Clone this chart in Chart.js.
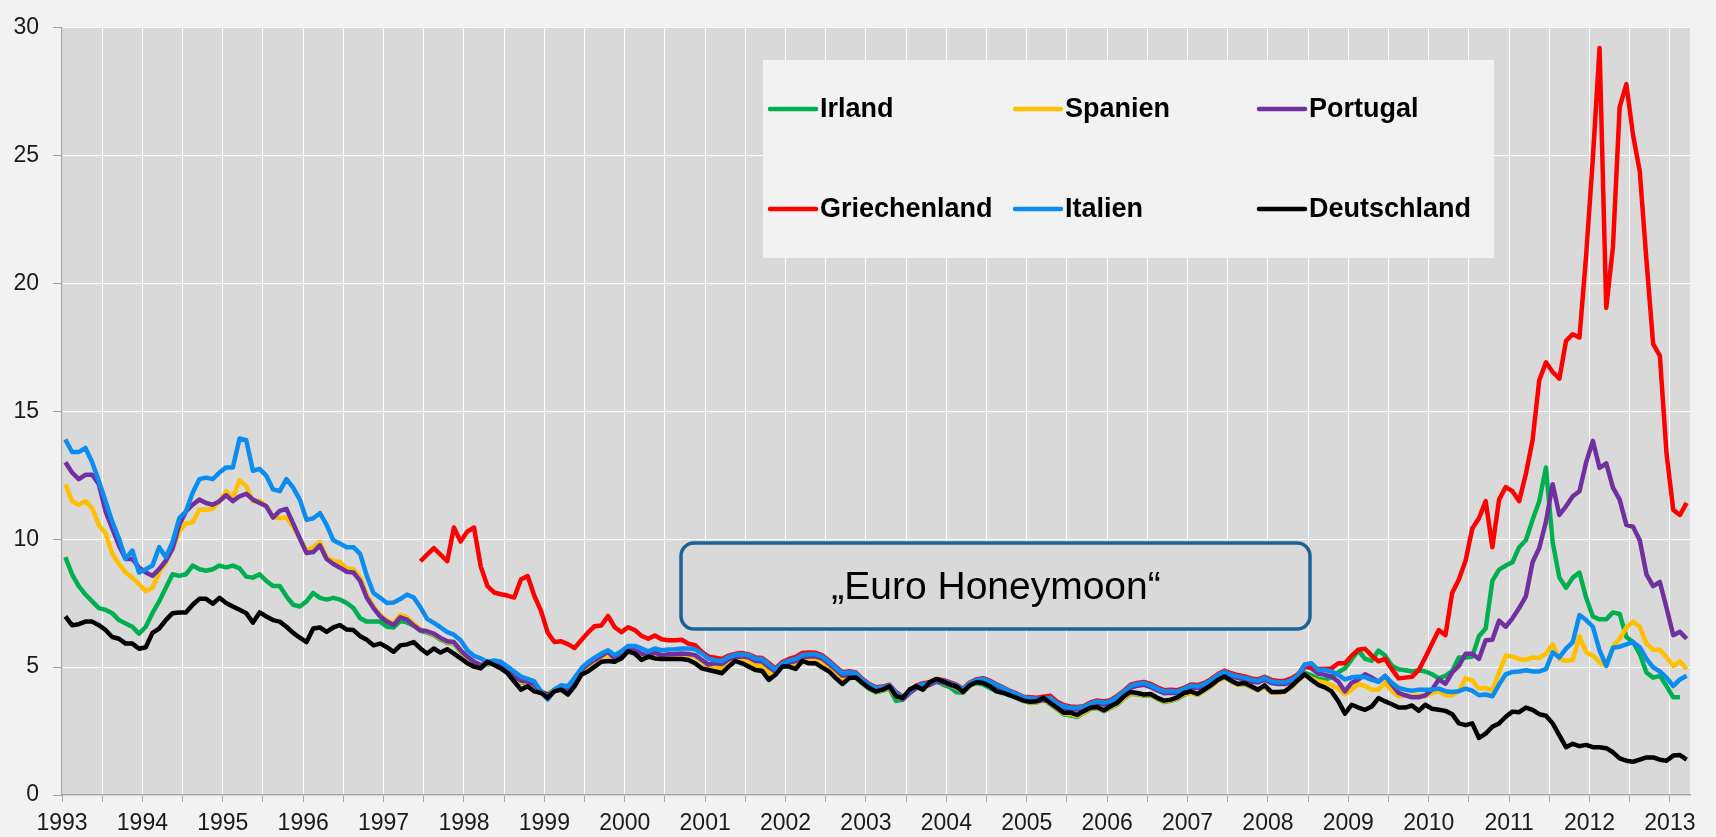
<!DOCTYPE html>
<html lang="de">
<head>
<meta charset="utf-8">
<title>Renditen 10-jähriger Staatsanleihen 1993–2013</title>
<script src="https://cdn.jsdelivr.net/npm/chart.js@4.4.1/dist/chart.umd.min.js"></script>
<style>
  html, body { margin: 0; padding: 0; background: #f2f2f2; }
  #wrap { width: 1716px; height: 837px; }
</style>
</head>
<body>
<div id="wrap"><canvas id="chart" width="1716" height="837"></canvas></div>
<script>
// Monatswerte Jan 1993 .. Mär 2013 (243 Monate), Rendite in %
const years = ['1993', '1994', '1995', '1996', '1997', '1998', '1999', '2000', '2001', '2002', '2003',
	'2004', '2005', '2006', '2007', '2008', '2009', '2010', '2011', '2012', '2013'];
const firstYear = 1993;
const monthCount = 243;

const irland = [
	9.30, 8.63, 8.17, 7.84, 7.57, 7.31, 7.24, 7.11, 6.84, 6.71, 6.58, 6.31,
	6.58, 7.11, 7.57, 8.10, 8.63, 8.57, 8.63, 8.97, 8.83, 8.77, 8.83, 8.97,
	8.90, 8.97, 8.86, 8.54, 8.50, 8.63, 8.37, 8.17, 8.17, 7.77, 7.44, 7.37,
	7.57, 7.90, 7.71, 7.64, 7.71, 7.64, 7.51, 7.31, 6.91, 6.78, 6.78, 6.78,
	6.58, 6.55, 6.80, 6.75, 6.62, 6.42, 6.35, 6.25, 6.08, 5.95, 5.92, 5.60,
	5.36, 5.16, 5.03, 5.10, 5.16, 5.03, 4.83, 4.55, 4.40, 4.37, 4.24, 4.00,
	3.95, 4.12, 4.25, 4.12, 4.55, 4.88, 5.10, 5.26, 5.42, 5.55, 5.30, 5.50,
	5.68, 5.62, 5.48, 5.40, 5.52, 5.42, 5.46, 5.47, 5.48, 5.47, 5.42, 5.24,
	4.98, 4.95, 4.90, 5.12, 5.28, 5.25, 5.15, 5.00, 4.98, 4.62, 4.75, 5.08,
	5.12, 5.10, 5.34, 5.30, 5.28, 5.12, 4.95, 4.68, 4.45, 4.60, 4.58, 4.35,
	4.15, 4.02, 4.08, 4.16, 3.68, 3.72, 4.02, 4.20, 4.15, 4.36, 4.46, 4.32,
	4.22, 4.02, 4.00, 4.28, 4.38, 4.32, 4.18, 4.06, 4.00, 3.90, 3.80, 3.68,
	3.60, 3.62, 3.72, 3.55, 3.36, 3.15, 3.12, 3.05, 3.20, 3.36, 3.40, 3.28,
	3.40, 3.54, 3.78, 3.96, 3.94, 3.88, 3.90, 3.76, 3.64, 3.68, 3.76, 3.92,
	4.00, 3.92, 4.08, 4.26, 4.48, 4.60, 4.46, 4.32, 4.34, 4.22, 4.10, 4.24,
	4.02, 4.02, 4.05, 4.24, 4.52, 4.78, 4.68, 4.55, 4.50, 4.62, 4.80, 4.95,
	5.30, 5.65, 5.32, 5.25, 5.65, 5.45, 5.05, 4.92, 4.88, 4.83, 4.88, 4.83,
	4.72, 4.56, 4.66, 4.85, 5.38, 5.38, 5.41, 6.21, 6.51, 8.37, 8.81, 8.97,
	9.10, 9.69, 9.96, 10.76, 11.49, 12.81, 9.89, 8.50, 8.10, 8.50, 8.70, 7.71,
	6.98, 6.87, 6.87, 7.14, 7.08, 6.18, 5.98, 5.52, 4.79, 4.59, 4.66, 4.26,
	3.82, 3.82, null
];

const spanien = [
	12.15, 11.49, 11.35, 11.49, 11.22, 10.56, 10.23, 9.43, 9.03, 8.70, 8.50, 8.24,
	7.97, 8.10, 8.70, 9.10, 9.63, 10.29, 10.62, 10.66, 11.15, 11.15, 11.19, 11.49,
	11.88, 11.62, 12.31, 12.08, 11.49, 11.51, 11.29, 10.89, 10.82, 10.85, 10.49, 10.03,
	9.56, 9.69, 9.89, 9.30, 9.16, 9.10, 8.86, 8.83, 8.50, 7.84, 7.37, 7.04,
	6.84, 6.70, 7.05, 6.95, 6.70, 6.48, 6.38, 6.28, 6.12, 5.98, 5.95, 5.62,
	5.38, 5.18, 5.05, 5.12, 5.18, 5.05, 4.85, 4.58, 4.42, 4.40, 4.27, 4.02,
	3.95, 4.08, 4.22, 4.10, 4.52, 4.85, 5.05, 5.22, 5.38, 5.50, 5.28, 5.46,
	5.66, 5.60, 5.46, 5.38, 5.50, 5.40, 5.44, 5.45, 5.47, 5.45, 5.41, 5.22,
	5.00, 5.00, 4.95, 5.18, 5.32, 5.30, 5.20, 5.06, 5.04, 4.76, 4.76, 5.05,
	5.10, 5.08, 5.32, 5.28, 5.28, 5.15, 4.97, 4.73, 4.50, 4.62, 4.62, 4.40,
	4.18, 4.05, 4.10, 4.20, 3.86, 3.76, 4.03, 4.18, 4.16, 4.33, 4.46, 4.40,
	4.30, 4.20, 4.02, 4.28, 4.40, 4.40, 4.28, 4.12, 4.03, 3.92, 3.82, 3.70,
	3.62, 3.63, 3.72, 3.58, 3.38, 3.18, 3.16, 3.08, 3.22, 3.38, 3.42, 3.30,
	3.42, 3.56, 3.80, 3.98, 3.96, 3.90, 3.92, 3.78, 3.66, 3.70, 3.78, 3.94,
	4.00, 3.92, 4.08, 4.24, 4.46, 4.60, 4.45, 4.32, 4.35, 4.22, 4.10, 4.24,
	4.00, 4.00, 4.03, 4.22, 4.48, 4.70, 4.55, 4.45, 4.40, 4.30, 4.15, 3.93,
	4.12, 4.35, 4.26, 4.12, 4.12, 4.39, 4.06, 3.86, 3.90, 3.86, 3.90, 3.86,
	3.99, 4.06, 3.90, 3.90, 4.06, 4.56, 4.48, 4.16, 4.19, 4.08, 4.79, 5.45,
	5.41, 5.32, 5.28, 5.38, 5.36, 5.52, 5.89, 5.32, 5.25, 5.28, 6.21, 5.58,
	5.45, 5.19, 5.05, 5.81, 6.11, 6.55, 6.78, 6.58, 5.92, 5.68, 5.68, 5.38,
	5.05, 5.23, 4.92
];

const portugal = [
	13.01, 12.61, 12.35, 12.52, 12.52, 12.15, 11.09, 10.42, 9.76, 9.23, 9.23, 8.89,
	8.70, 8.57, 8.83, 9.16, 9.63, 10.56, 11.09, 11.35, 11.55, 11.42, 11.35, 11.49,
	11.72, 11.49, 11.68, 11.78, 11.55, 11.42, 11.29, 10.85, 11.11, 11.19, 10.62, 10.03,
	9.46, 9.50, 9.76, 9.23, 9.03, 8.89, 8.73, 8.70, 8.37, 7.71, 7.31, 6.98,
	6.78, 6.65, 6.95, 6.86, 6.63, 6.44, 6.40, 6.31, 6.14, 6.01, 5.98, 5.66,
	5.41, 5.21, 5.08, 5.15, 5.21, 5.08, 4.89, 4.63, 4.47, 4.44, 4.31, 4.05,
	3.93, 4.05, 4.21, 4.12, 4.57, 4.89, 5.11, 5.28, 5.44, 5.60, 5.34, 5.53,
	5.73, 5.66, 5.53, 5.44, 5.57, 5.47, 5.50, 5.51, 5.53, 5.51, 5.47, 5.28,
	5.10, 5.15, 5.12, 5.30, 5.40, 5.42, 5.38, 5.24, 5.22, 5.00, 4.82, 5.08,
	5.18, 5.24, 5.40, 5.42, 5.42, 5.33, 5.12, 4.90, 4.66, 4.70, 4.68, 4.42,
	4.22, 4.10, 4.14, 4.22, 3.92, 3.74, 3.98, 4.18, 4.26, 4.30, 4.43, 4.40,
	4.30, 4.22, 4.05, 4.31, 4.43, 4.47, 4.37, 4.24, 4.10, 3.96, 3.86, 3.74,
	3.70, 3.68, 3.70, 3.72, 3.54, 3.40, 3.35, 3.34, 3.37, 3.50, 3.58, 3.54,
	3.60, 3.76, 3.96, 4.20, 4.27, 4.31, 4.22, 4.09, 3.98, 4.00, 3.98, 4.08,
	4.21, 4.18, 4.27, 4.42, 4.62, 4.76, 4.65, 4.57, 4.52, 4.44, 4.40, 4.51,
	4.38, 4.34, 4.34, 4.42, 4.62, 5.02, 4.95, 4.75, 4.70, 4.63, 4.44, 4.05,
	4.39, 4.52, 4.72, 4.59, 4.43, 4.66, 4.32, 3.99, 3.90, 3.82, 3.82, 3.90,
	4.12, 4.52, 4.35, 4.79, 5.05, 5.52, 5.52, 5.32, 6.05, 6.07, 6.82, 6.58,
	6.91, 7.31, 7.77, 9.10, 9.66, 10.69, 12.15, 10.95, 11.29, 11.68, 11.88, 13.01,
	13.85, 12.79, 12.97, 12.02, 11.55, 10.56, 10.49, 9.96, 8.63, 8.17, 8.33, 7.31,
	6.25, 6.38, 6.11
];

// Griechenland erst ab Juni 1997 (Monat 53)
const griechenlandStart = 53;
const griechenland = [
	9.14, 9.40, 9.65, 9.40, 9.14, 10.46, 9.91,
	10.30, 10.46, 8.94, 8.17, 7.92, 7.85, 7.80, 7.72, 8.43, 8.56, 7.79, 7.20,
	6.35, 5.98, 6.01, 5.90, 5.75, 6.05, 6.35, 6.60, 6.63, 7.00, 6.56, 6.37,
	6.56, 6.45, 6.22, 6.11, 6.24, 6.09, 6.05, 6.05, 6.07, 5.92, 5.86, 5.60,
	5.41, 5.37, 5.32, 5.45, 5.52, 5.55, 5.50, 5.38, 5.36, 5.16, 4.95, 5.20,
	5.32, 5.40, 5.55, 5.57, 5.56, 5.46, 5.25, 5.02, 4.80, 4.84, 4.79, 4.53,
	4.34, 4.21, 4.24, 4.31, 4.02, 3.83, 4.07, 4.28, 4.37, 4.41, 4.53, 4.50,
	4.41, 4.32, 4.15, 4.40, 4.53, 4.57, 4.47, 4.33, 4.20, 4.07, 3.97, 3.84,
	3.82, 3.80, 3.84, 3.88, 3.66, 3.52, 3.46, 3.44, 3.47, 3.62, 3.70, 3.66,
	3.71, 3.88, 4.07, 4.31, 4.38, 4.42, 4.34, 4.21, 4.10, 4.12, 4.10, 4.19,
	4.32, 4.30, 4.38, 4.53, 4.72, 4.86, 4.76, 4.69, 4.64, 4.56, 4.52, 4.62,
	4.50, 4.46, 4.47, 4.56, 4.72, 5.08, 4.98, 4.93, 4.93, 4.95, 5.15, 5.15,
	5.45, 5.68, 5.72, 5.45, 5.23, 5.32, 4.92, 4.56, 4.59, 4.62, 4.88, 5.38,
	5.92, 6.45, 6.25, 7.90, 8.43, 9.16, 10.42, 10.82, 11.49, 9.69, 11.55, 12.04,
	11.88, 11.49, 12.55, 13.87, 16.22, 16.92, 16.54, 16.28, 17.76, 18.02, 17.89, 21.11,
	24.90, 29.21, 19.05, 21.43, 26.90, 27.80, 25.80, 24.39, 20.91, 17.63, 17.18, 13.34,
	11.15, 10.95, 11.42
];

const italien = [
	13.90, 13.41, 13.41, 13.57, 13.01, 12.28, 11.49, 10.69, 10.03, 9.23, 9.56, 8.70,
	8.83, 8.97, 9.69, 9.30, 9.89, 10.82, 11.09, 11.82, 12.35, 12.41, 12.35, 12.61,
	12.81, 12.81, 13.94, 13.87, 12.68, 12.75, 12.48, 11.95, 11.88, 12.35, 12.02, 11.55,
	10.76, 10.82, 11.02, 10.56, 9.96, 9.83, 9.69, 9.69, 9.43, 8.57, 7.90, 7.71,
	7.51, 7.53, 7.66, 7.84, 7.72, 7.34, 6.89, 6.73, 6.56, 6.37, 6.27, 6.05,
	5.66, 5.44, 5.34, 5.21, 5.26, 5.21, 5.02, 4.83, 4.63, 4.54, 4.44, 4.05,
	3.73, 4.12, 4.29, 4.25, 4.57, 4.95, 5.19, 5.37, 5.53, 5.66, 5.47, 5.62,
	5.83, 5.83, 5.73, 5.62, 5.73, 5.66, 5.69, 5.70, 5.73, 5.73, 5.70, 5.53,
	5.33, 5.27, 5.24, 5.40, 5.48, 5.50, 5.47, 5.34, 5.32, 5.10, 4.90, 5.15,
	5.26, 5.32, 5.47, 5.50, 5.50, 5.41, 5.21, 4.98, 4.76, 4.80, 4.76, 4.50,
	4.31, 4.18, 4.21, 4.29, 3.99, 3.80, 4.05, 4.25, 4.34, 4.38, 4.50, 4.47,
	4.38, 4.29, 4.12, 4.38, 4.50, 4.54, 4.44, 4.31, 4.18, 4.05, 3.95, 3.82,
	3.78, 3.75, 3.77, 3.80, 3.60, 3.47, 3.42, 3.41, 3.44, 3.58, 3.66, 3.61,
	3.67, 3.84, 4.03, 4.27, 4.34, 4.38, 4.29, 4.16, 4.05, 4.07, 4.05, 4.15,
	4.28, 4.25, 4.34, 4.49, 4.68, 4.82, 4.71, 4.64, 4.59, 4.51, 4.47, 4.58,
	4.45, 4.41, 4.41, 4.49, 4.68, 5.10, 5.15, 4.89, 4.89, 4.83, 4.70, 4.52,
	4.60, 4.62, 4.61, 4.50, 4.43, 4.65, 4.39, 4.19, 4.12, 4.08, 4.12, 4.12,
	4.12, 4.16, 4.06, 4.03, 4.06, 4.16, 4.08, 3.90, 3.93, 3.86, 4.32, 4.72,
	4.81, 4.83, 4.88, 4.83, 4.83, 4.92, 5.58, 5.38, 5.72, 5.98, 7.04, 6.84,
	6.58, 5.65, 5.05, 5.76, 5.80, 5.89, 5.98, 5.78, 5.32, 4.99, 4.83, 4.59,
	4.26, 4.52, 4.66
];

const deutschland = [
	6.98, 6.64, 6.68, 6.78, 6.78, 6.64, 6.45, 6.18, 6.11, 5.92, 5.92, 5.72,
	5.78, 6.34, 6.51, 6.84, 7.11, 7.14, 7.14, 7.44, 7.67, 7.67, 7.48, 7.71,
	7.51, 7.37, 7.24, 7.11, 6.74, 7.14, 6.98, 6.84, 6.78, 6.58, 6.34, 6.15,
	5.98, 6.51, 6.55, 6.38, 6.55, 6.64, 6.47, 6.45, 6.21, 6.07, 5.85, 5.92,
	5.78, 5.60, 5.85, 5.89, 5.98, 5.73, 5.53, 5.73, 5.57, 5.70, 5.53, 5.34,
	5.15, 5.02, 4.95, 5.21, 5.08, 4.95, 4.76, 4.44, 4.12, 4.25, 4.05, 3.99,
	3.80, 4.05, 4.12, 3.93, 4.25, 4.70, 4.83, 5.02, 5.21, 5.24, 5.21, 5.34,
	5.62, 5.53, 5.28, 5.41, 5.34, 5.32, 5.32, 5.32, 5.32, 5.28, 5.15, 4.95,
	4.89, 4.83, 4.76, 5.02, 5.24, 5.15, 5.02, 4.89, 4.85, 4.50, 4.70, 5.02,
	5.02, 4.93, 5.24, 5.15, 5.15, 4.98, 4.83, 4.57, 4.34, 4.57, 4.59, 4.38,
	4.18, 4.05, 4.12, 4.25, 3.86, 3.80, 4.12, 4.25, 4.12, 4.41, 4.54, 4.44,
	4.34, 4.25, 4.03, 4.29, 4.41, 4.38, 4.25, 4.05, 3.99, 3.90, 3.80, 3.69,
	3.65, 3.67, 3.80, 3.60, 3.41, 3.22, 3.22, 3.13, 3.28, 3.41, 3.44, 3.31,
	3.47, 3.60, 3.86, 4.03, 3.99, 3.93, 3.95, 3.80, 3.69, 3.73, 3.82, 3.99,
	4.05, 3.95, 4.12, 4.29, 4.50, 4.63, 4.47, 4.34, 4.38, 4.25, 4.12, 4.29,
	4.03, 4.03, 4.05, 4.25, 4.50, 4.72, 4.50, 4.31, 4.21, 4.05, 3.67, 3.18,
	3.53, 3.42, 3.33, 3.46, 3.79, 3.66, 3.55, 3.42, 3.42, 3.50, 3.29, 3.53,
	3.37, 3.33, 3.29, 3.16, 2.80, 2.73, 2.80, 2.23, 2.40, 2.67, 2.80, 3.06,
	3.26, 3.24, 3.42, 3.33, 3.16, 3.10, 2.80, 2.33, 1.87, 2.00, 1.91, 1.96,
	1.87, 1.87, 1.83, 1.67, 1.43, 1.34, 1.30, 1.38, 1.47, 1.47, 1.38, 1.34,
	1.54, 1.56, 1.38
];

// Reihenfolge wie in der Legende (zeilenweise)
const series = [
	{ label: 'Irland', color: '#00b050', values: irland, start: 0 },
	{ label: 'Spanien', color: '#ffc000', values: spanien, start: 0 },
	{ label: 'Portugal', color: '#7030a0', values: portugal, start: 0 },
	{ label: 'Griechenland', color: '#ff0000', values: griechenland, start: griechenlandStart },
	{ label: 'Italien', color: '#0a8cf0', values: italien, start: 0 },
	{ label: 'Deutschland', color: '#000000', values: deutschland, start: 0 }
];

const FONT = '"Liberation Sans", Arial, Helvetica, sans-serif';

// Monatswert in die Mitte des Monats legen
function toPoints(s) {
	return s.values.map((v, i) => ({ x: firstYear + (s.start + i + 0.5) / 12, y: v }));
}

const plotBackground = {
	id: 'plotBackground',
	beforeDraw(chart) {
		const { ctx, chartArea: a } = chart;
		ctx.save();
		ctx.fillStyle = '#f2f2f2';
		ctx.fillRect(0, 0, chart.width, chart.height);
		ctx.fillStyle = '#d9d9d9';
		ctx.fillRect(a.left, a.top, a.right - a.left, a.bottom - a.top);
		ctx.restore();
	}
};

function roundRectPath(ctx, x, y, w, h, r) {
	ctx.beginPath();
	ctx.moveTo(x + r, y);
	ctx.arcTo(x + w, y, x + w, y + h, r);
	ctx.arcTo(x + w, y + h, x, y + h, r);
	ctx.arcTo(x, y + h, x, y, r);
	ctx.arcTo(x, y, x + w, y, r);
	ctx.closePath();
}

const overlays = {
	id: 'overlays',
	afterDraw(chart) {
		const ctx = chart.ctx;
		ctx.save();

		// Legende im Diagramm
		ctx.fillStyle = '#f2f2f2';
		ctx.fillRect(763, 60, 731, 198);
		const colX = [770, 1015, 1259];
		const rowY = [109, 209];
		ctx.font = 'bold 27px ' + FONT;
		ctx.textBaseline = 'middle';
		ctx.textAlign = 'left';
		series.forEach((s, i) => {
			const x = colX[i % 3];
			const y = rowY[(i / 3) >> 0];
			ctx.strokeStyle = s.color;
			ctx.lineWidth = 4.5;
			ctx.lineCap = 'round';
			ctx.beginPath();
			ctx.moveTo(x, y);
			ctx.lineTo(x + 46, y);
			ctx.stroke();
			ctx.fillStyle = '#000';
			ctx.fillText(s.label, x + 50, y + 1);
		});

		// "Euro Honeymoon"-Kasten
		roundRectPath(ctx, 681, 543, 629, 86, 13);
		ctx.fillStyle = '#d9d9d9';
		ctx.fill();
		ctx.strokeStyle = '#1b6397';
		ctx.lineWidth = 3.5;
		ctx.stroke();
		ctx.fillStyle = '#000';
		ctx.font = '39px ' + FONT;
		ctx.textAlign = 'center';
		ctx.fillText('\u201EEuro Honeymoon\u201C', 996, 588);

		ctx.restore();
	}
};

const chart = new Chart(document.getElementById('chart'), {
	type: 'line',
	data: {
		datasets: series.map((s, i) => ({
			label: s.label,
			data: toPoints(s),
			borderColor: s.color,
			backgroundColor: s.color,
			borderWidth: 4.5,
			borderJoinStyle: 'round',
			pointRadius: 0,
			tension: 0,
			fill: false,
			spanGaps: false,
			order: series.length - 1 - i
		}))
	},
	options: {
		responsive: false,
		animation: false,
		devicePixelRatio: 1,
		layout: { padding: { top: 18, right: 26, left: 0, bottom: 0 } },
		plugins: {
			legend: { display: false },
			tooltip: { enabled: false }
		},
		scales: {
			x: {
				type: 'linear',
				min: firstYear,
				max: firstYear + monthCount / 12,
				afterFit(scale) { scale.height = 42; },
				ticks: {
					stepSize: 0.5,
					includeBounds: false,
					autoSkip: false,
					maxRotation: 0,
					padding: 8,
					color: '#1a1a1a',
					font: { family: FONT, size: 23 },
					callback: v => Number.isInteger(v) ? years[v - firstYear] : ''
				},
				grid: { color: '#ffffff', lineWidth: 1, tickLength: 7, tickColor: '#a6a6a6' },
				border: { color: '#a6a6a6', width: 1.5 }
			},
			y: {
				min: 0,
				max: 30,
				afterFit(scale) { scale.width = 62; },
				ticks: {
					stepSize: 5,
					padding: 14,
					color: '#1a1a1a',
					font: { family: FONT, size: 23 }
				},
				grid: { color: '#ffffff', lineWidth: 1, tickLength: 9, tickColor: '#a6a6a6' },
				border: { color: '#a6a6a6', width: 1.5 }
			}
		}
	},
	plugins: [plotBackground, overlays]
});
</script>
</body>
</html>
